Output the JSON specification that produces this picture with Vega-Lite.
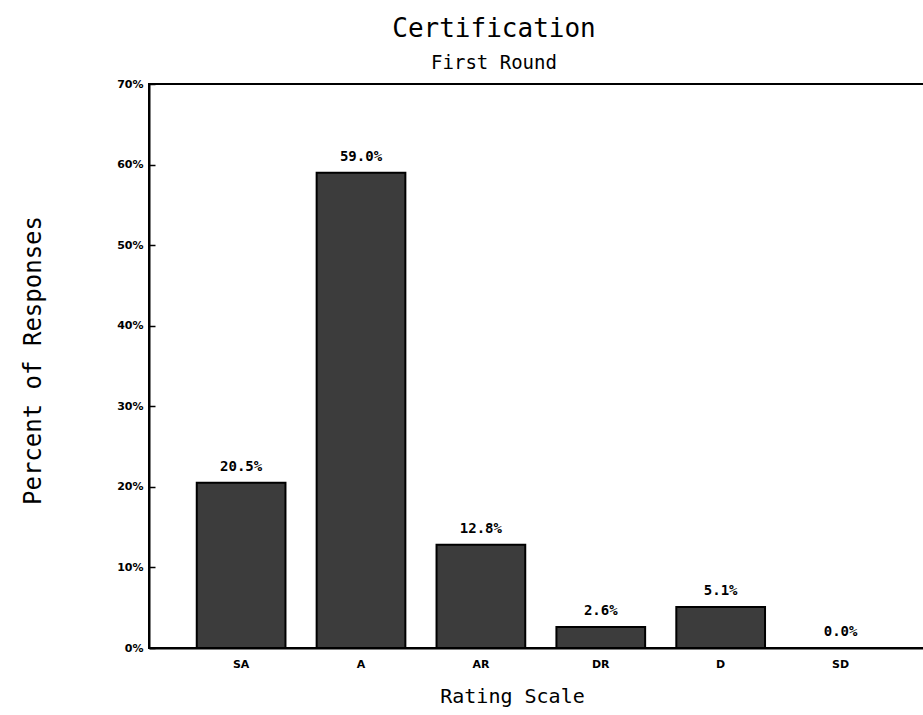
{
  "$schema": "https://vega.github.io/schema/vega-lite/v6.json",
  "autosize": "none",
  "width": 780,
  "height": 564,
  "padding": {"left": 149, "top": 84, "right": 0, "bottom": 67},
  "background": "white",
  "title": {
    "text": "Certification",
    "subtitle": "First Round",
    "anchor": "middle",
    "frame": "group",
    "dx": -45,
    "offset": 5,
    "font": "DejaVu Sans Mono",
    "fontSize": 26,
    "fontWeight": "normal",
    "color": "black",
    "subtitleFont": "DejaVu Sans Mono",
    "subtitleFontSize": 19,
    "subtitleColor": "black",
    "subtitlePadding": 12
  },
  "config": {
    "view": {"stroke": "black", "strokeWidth": 2},
    "axis": {"grid": false}
  },
  "data": {
    "values": [
      {"rating": "SA", "pct": 0.205},
      {"rating": "A", "pct": 0.59},
      {"rating": "AR", "pct": 0.128},
      {"rating": "DR", "pct": 0.026},
      {"rating": "D", "pct": 0.051},
      {"rating": "SD", "pct": 0.0}
    ]
  },
  "encoding": {
    "x": {
      "field": "rating",
      "type": "nominal",
      "sort": null,
      "scale": {"paddingInner": 0.26, "paddingOuter": 0.383, "align": 0.52},
      "axis": {
        "title": "Rating Scale",
        "titleFont": "DejaVu Sans Mono",
        "titleFontSize": 20,
        "titleFontWeight": "normal",
        "titleColor": "black",
        "titleX": 363,
        "titleY": 48,
        "titleBaseline": "middle",
        "labelAngle": 0,
        "labelFont": "DejaVu Sans",
        "labelFontWeight": "bold",
        "labelFontSize": 11,
        "labelColor": "black",
        "labelPadding": 10,
        "labelOverlap": false,
        "ticks": false,
        "domainColor": "black",
        "domainWidth": 2
      }
    },
    "y": {
      "field": "pct",
      "type": "quantitative",
      "scale": {"domain": [0, 0.7], "nice": false},
      "axis": {
        "title": "Percent of Responses",
        "titleFont": "DejaVu Sans Mono",
        "titleFontSize": 24,
        "titleFontWeight": "normal",
        "titleColor": "black",
        "titleX": -116,
        "titleY": 276,
        "titleBaseline": "middle",
        "titleAngle": -90,
        "format": ".0%",
        "values": [0, 0.1, 0.2, 0.3, 0.4, 0.5, 0.6, 0.7],
        "labelOverlap": false,
        "labelBound": false,
        "labelFont": "DejaVu Sans",
        "labelFontWeight": "bold",
        "labelFontSize": 11,
        "labelColor": "black",
        "labelPadding": 12,
        "tickSize": -6,
        "tickColor": "black",
        "tickWidth": 1.5,
        "domainColor": "black",
        "domainWidth": 2
      }
    }
  },
  "layer": [
    {
      "mark": {"type": "bar", "fill": "#3c3c3c", "stroke": "black", "strokeWidth": 2}
    },
    {
      "mark": {
        "type": "text",
        "baseline": "bottom",
        "dy": -9,
        "font": "DejaVu Sans Mono",
        "fontWeight": "bold",
        "fontSize": 14,
        "color": "black"
      },
      "encoding": {
        "text": {"field": "pct", "type": "quantitative", "format": ".1%"}
      }
    }
  ]
}
